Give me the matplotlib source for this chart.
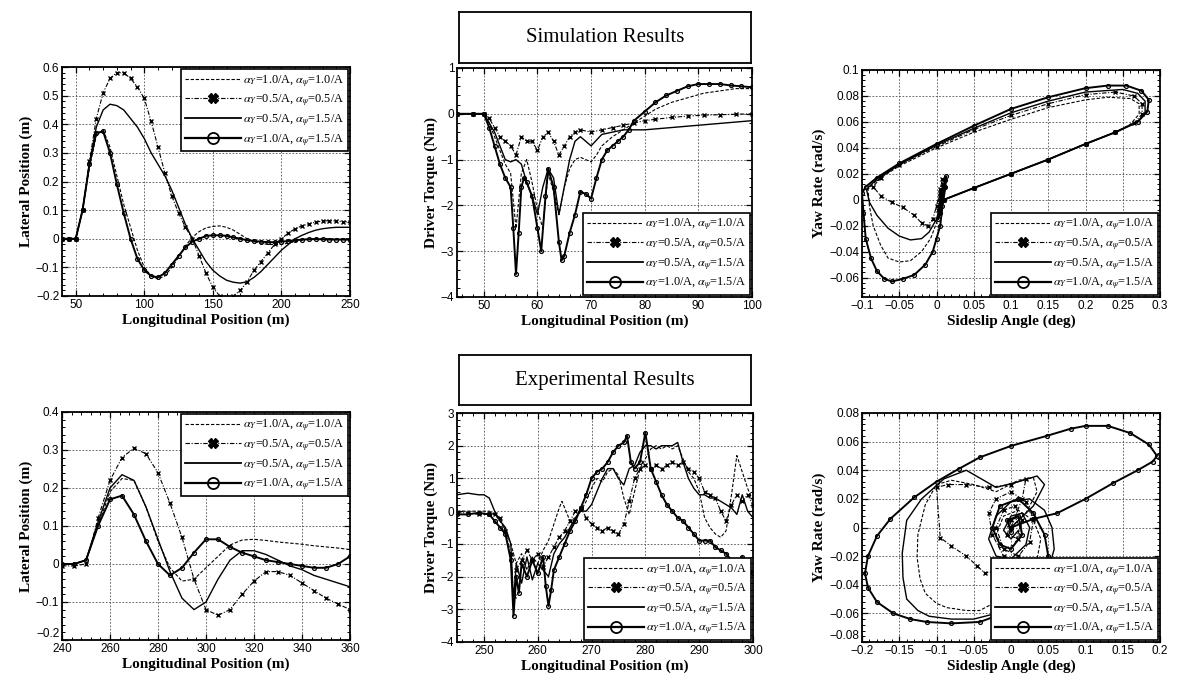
import matplotlib
matplotlib.use('Agg')
import matplotlib.pyplot as plt
from matplotlib.lines import Line2D
from matplotlib.ticker import MultipleLocator, AutoMinorLocator, FuncFormatter

plt.rcParams['mathtext.fontset'] = 'stix'

# ---------------- data ----------------
legend_labels = [r'$\alpha_Y$=1.0/A, $\alpha_\psi$=1.0/A',
                 r'$\alpha_Y$=0.5/A, $\alpha_\psi$=0.5/A',
                 r'$\alpha_Y$=0.5/A, $\alpha_\psi$=1.5/A',
                 r'$\alpha_Y$=1.0/A, $\alpha_\psi$=1.5/A']

# Simulation: lateral position
sim_lat_x = [40, 45, 50, 55, 60, 65, 70, 75, 80, 85,
             90, 95, 100, 105, 110, 115, 120, 125, 130, 135,
             140, 145, 150, 155, 160, 165, 170, 175, 180, 185,
             190, 195, 200, 205, 210, 215, 220, 225, 230, 235,
             240, 245, 250]
sim_lat_s1 = [0, 0, 0, 0.10, 0.25, 0.36, 0.38, 0.32, 0.22, 0.12,
              0.04, -0.04, -0.10, -0.13, -0.14, -0.13, -0.10, -0.065, -0.025, 0.005,
              0.025, 0.038, 0.043, 0.045, 0.04, 0.03, 0.015, 0.0, -0.01, -0.015,
              -0.02, -0.02, -0.02, -0.015, -0.01, -0.005, 0, 0, 0, 0,
              0, 0, 0]
sim_lat_s2 = [0, 0, 0, 0.10, 0.27, 0.42, 0.51, 0.56, 0.58, 0.58,
              0.56, 0.53, 0.49, 0.41, 0.32, 0.23, 0.15, 0.09, 0.04, 0.0,
              -0.06, -0.12, -0.17, -0.20, -0.21, -0.20, -0.18, -0.15, -0.11, -0.08,
              -0.05, -0.02, 0.0, 0.02, 0.035, 0.045, 0.052, 0.058, 0.062, 0.063,
              0.062, 0.06, 0.058]
sim_lat_s3 = [0, 0, 0, 0.10, 0.26, 0.39, 0.45, 0.47, 0.465, 0.45,
              0.42, 0.39, 0.35, 0.30, 0.26, 0.22, 0.17, 0.11, 0.05, 0.0,
              -0.04, -0.08, -0.11, -0.13, -0.145, -0.152, -0.155, -0.15, -0.135, -0.115,
              -0.09, -0.065, -0.04, -0.02, 0.0, 0.012, 0.022, 0.03, 0.035, 0.038,
              0.04, 0.04, 0.04]
sim_lat_s4 = [0, 0, 0, 0.10, 0.26, 0.37, 0.375, 0.30, 0.19, 0.09,
              0.0, -0.07, -0.11, -0.13, -0.135, -0.12, -0.09, -0.06, -0.03, -0.01,
              0.0, 0.01, 0.012, 0.012, 0.01, 0.005, 0.0, -0.005, -0.008, -0.01,
              -0.012, -0.012, -0.01, -0.008, -0.005, -0.003, -0.002, -0.001, -0.002, -0.003,
              -0.003, -0.003, -0.003]

# Simulation: driver torque
sim_tq_x1 = [45, 48, 50, 51, 52, 53, 54, 55, 56, 57,
             58, 59, 60, 61, 62, 63, 64, 65, 66, 67,
             68, 69, 70, 71, 72, 74, 76, 78, 80, 82,
             85, 88, 91, 94, 97, 100]
sim_tq_y1 = [0.0, 0.0, 0.0, -0.2, -0.5, -0.8, -1.1, -1.3, -2.5, -1.3,
             -1.0, -1.5, -2.1, -2.5, -1.3, -1.7, -2.2, -1.6, -1.2, -1.0,
             -0.95, -1.0, -1.05, -0.9, -0.7, -0.5, -0.35, -0.2, -0.05, 0.1,
             0.25, 0.35, 0.45, 0.5, 0.55, 0.55]
sim_tq_x2 = [45, 48, 50, 51, 52, 53, 54, 55, 56, 57,
             58, 59, 60, 61, 62, 63, 64, 65, 66, 67,
             68, 70, 72, 74, 76, 78, 80, 82, 85, 88,
             91, 94, 97, 100]
sim_tq_y2 = [0.0, 0.0, 0.0, -0.1, -0.3, -0.5, -0.6, -0.7, -0.9, -0.5,
             -0.6, -0.6, -0.8, -0.5, -0.4, -0.6, -0.9, -0.7, -0.5, -0.4,
             -0.35, -0.4, -0.35, -0.3, -0.25, -0.2, -0.15, -0.12, -0.08, -0.05,
             -0.03, -0.02, -0.01, 0.0]
sim_tq_x3 = [45, 48, 50, 51, 52, 53, 54, 55, 56, 57,
             58, 59, 60, 61, 62, 63, 64, 65, 66, 67,
             68, 69, 70, 72, 74, 76, 78, 80, 85, 90,
             95, 100]
sim_tq_y3 = [0.0, 0.0, 0.0, -0.2, -0.4, -0.7, -1.0, -1.05, -1.0, -1.1,
             -1.5, -1.8, -2.2, -1.6, -1.2, -1.4, -2.2, -1.6, -1.0, -0.6,
             -0.5, -0.6, -0.7, -0.45, -0.4, -0.35, -0.35, -0.35, -0.3, -0.25,
             -0.2, -0.15]
sim_tq_x4 = [45, 48, 50, 51, 52, 53, 54, 55, 55.5, 56,
             56.5, 57, 57.5, 58, 59, 60, 60.7, 61.5, 62, 63,
             64, 64.5, 65, 66, 67, 68, 69, 70, 71, 72,
             73, 74, 75, 76, 77, 78, 80, 82, 84, 86,
             88, 90, 92, 94, 96, 98, 100]
sim_tq_y4 = [0.0, 0.0, 0.0, -0.3, -0.7, -1.1, -1.4, -1.6, -2.5, -3.5,
             -2.6, -1.6, -1.4, -1.5, -1.8, -2.5, -3.0, -1.8, -1.2, -1.6,
             -2.8, -3.2, -3.1, -2.6, -2.2, -1.7, -1.75, -1.85, -1.4, -1.0,
             -0.8, -0.7, -0.6, -0.5, -0.35, -0.15, 0.05, 0.25, 0.4, 0.5,
             0.6, 0.65, 0.65, 0.65, 0.62, 0.6, 0.58]

# Simulation: sideslip vs yaw rate
sim_ph_b1 = [0.01, 0.05, 0.1, 0.15, 0.2, 0.24, 0.26, 0.272, 0.272, 0.26,
             0.23, 0.2, 0.15, 0.1, 0.05, 0.0, -0.05, -0.08, -0.092, -0.09,
             -0.085, -0.075, -0.065, -0.05, -0.035, -0.02, -0.008, 0.0, 0.006, 0.01,
             0.012, 0.008, 0.004, 0.008, 0.01, 0.006]
sim_ph_r1 = [0.0, 0.009, 0.02, 0.031, 0.043, 0.052, 0.058, 0.066, 0.074, 0.078,
             0.079, 0.077, 0.071, 0.062, 0.052, 0.04, 0.026, 0.015, 0.008, -0.005,
             -0.02, -0.035, -0.045, -0.048, -0.047, -0.04, -0.03, -0.018, -0.005, 0.01,
             0.016, 0.005, -0.01, 0.0, 0.012, 0.003]
sim_ph_b2 = [0.01, 0.05, 0.1, 0.15, 0.2, 0.24, 0.265, 0.276, 0.276, 0.265,
             0.24, 0.2, 0.15, 0.1, 0.05, 0.0, -0.05, -0.075, -0.085, -0.075,
             -0.06, -0.045, -0.03, -0.02, -0.012, -0.005, 0.0, 0.005, 0.008, 0.005,
             0.002, 0.006, 0.009, 0.005]
sim_ph_r2 = [0.0, 0.009, 0.02, 0.031, 0.043, 0.052, 0.059, 0.066, 0.074, 0.08,
             0.083, 0.081, 0.074, 0.065, 0.054, 0.041, 0.027, 0.017, 0.01, 0.003,
             -0.002, -0.006, -0.012, -0.018, -0.02, -0.015, -0.005, 0.008, 0.016, 0.005,
             -0.008, 0.004, 0.012, 0.002]
sim_ph_b3 = [0.01, 0.05, 0.1, 0.15, 0.2, 0.24, 0.27, 0.28, 0.28, 0.27,
             0.25, 0.2, 0.15, 0.1, 0.05, 0.0, -0.05, -0.08, -0.094, -0.09,
             -0.08, -0.065, -0.05, -0.035, -0.02, -0.01, 0.0, 0.006, 0.01, 0.012,
             0.008, 0.004, 0.009, 0.011, 0.007]
sim_ph_r3 = [0.0, 0.009, 0.02, 0.031, 0.043, 0.052, 0.06, 0.067, 0.076, 0.082,
             0.085, 0.083, 0.076, 0.067, 0.055, 0.042, 0.027, 0.016, 0.008, -0.002,
             -0.012, -0.022, -0.028, -0.031, -0.03, -0.025, -0.015, -0.002, 0.012, 0.017,
             0.004, -0.008, 0.004, 0.013, 0.003]
sim_ph_b4 = [0.01, 0.05, 0.1, 0.15, 0.2, 0.24, 0.27, 0.283, 0.285, 0.275,
             0.255, 0.23, 0.2, 0.15, 0.1, 0.05, 0.0, -0.05, -0.08, -0.095,
             -0.1, -0.098, -0.095, -0.088, -0.08, -0.07, -0.06, -0.045, -0.03, -0.015,
             -0.005, 0.0, 0.005, 0.008, 0.012, 0.013, 0.01, 0.005, 0.002, 0.008,
             0.012, 0.008, 0.005]
sim_ph_r4 = [0.0, 0.009, 0.02, 0.031, 0.043, 0.052, 0.06, 0.068, 0.077, 0.084,
             0.088, 0.088, 0.086, 0.079, 0.07, 0.057, 0.043, 0.028, 0.017, 0.01,
             0.005, -0.01, -0.03, -0.045, -0.055, -0.061, -0.063, -0.061, -0.058, -0.05,
             -0.04, -0.03, -0.02, -0.005, 0.01, 0.018, 0.01, -0.01, -0.015, 0.0,
             0.015, 0.005, 0.0]

# Experiment: lateral position
exp_lat_x = [240, 245, 250, 255, 260, 265, 270, 275, 280, 285,
             290, 295, 300, 305, 310, 315, 320, 325, 330, 335,
             340, 345, 350, 355, 360]
exp_lat_s1 = [0, 0, 0.01, 0.10, 0.19, 0.225, 0.22, 0.15, 0.06, -0.01,
              -0.045, -0.04, -0.01, 0.02, 0.05, 0.063, 0.065, 0.062, 0.058, 0.055,
              0.052, 0.048, 0.045, 0.042, 0.038]
exp_lat_s2 = [-0.005, -0.005, 0.0, 0.12, 0.22, 0.28, 0.305, 0.29, 0.24, 0.16,
              0.07, -0.04, -0.12, -0.135, -0.12, -0.08, -0.045, -0.02, -0.02, -0.03,
              -0.05, -0.07, -0.09, -0.105, -0.12]
exp_lat_s3 = [0, 0, 0.01, 0.11, 0.20, 0.235, 0.22, 0.15, 0.065, -0.02,
              -0.09, -0.12, -0.10, -0.04, 0.01, 0.035, 0.035, 0.025, 0.01, -0.005,
              -0.015, -0.03, -0.04, -0.05, -0.06]
exp_lat_s4 = [0, 0, 0.01, 0.10, 0.17, 0.18, 0.13, 0.06, 0.0, -0.03,
              -0.01, 0.03, 0.065, 0.065, 0.045, 0.03, 0.02, 0.01, 0.005, 0.0,
              -0.005, -0.01, -0.01, 0.0, 0.02]

# Experiment: driver torque
exp_tq_x1 = [245, 247, 249, 251, 252, 253, 254, 255, 256, 257,
             258, 259, 260, 261, 262, 263, 264, 264.5, 265, 266,
             267, 268, 269, 270, 271, 272, 273, 274, 275, 276,
             277, 278, 279, 280, 281, 282, 283, 284, 285, 286,
             287, 288, 289, 290, 291, 292, 293, 294, 295, 296,
             297, 298, 299, 300]
exp_tq_y1 = [0.0, 0.0, 0.0, 0.0, -0.1, -0.3, -0.6, -1.0, -1.6, -1.3,
             -1.8, -1.4, -1.6, -1.2, -0.9, -0.4, 0.1, 0.3, 0.1, -0.3,
             -0.2, 0.0, 0.3, 0.7, 1.0, 0.9, 1.2, 1.3, 1.1, 0.4,
             -0.1, 0.6, 1.3, 1.6, 1.9, 2.0, 1.9, 2.0, 1.9, 2.0,
             1.6, 1.2, 1.0, 0.6, -0.2, -0.5, -0.7, -0.8, -0.6, 0.5,
             1.7, 1.2, 0.7, 0.3]
exp_tq_x2 = [245, 247, 249, 251, 252, 253, 254, 255, 255.5, 256,
             257, 258, 259, 260, 261, 262, 263, 264, 265, 266,
             267, 268, 269, 270, 271, 272, 273, 274, 275, 276,
             277, 278, 279, 280, 281, 282, 283, 284, 285, 286,
             287, 288, 289, 290, 291, 292, 293, 294, 295, 296,
             297, 298, 299, 300]
exp_tq_y2 = [-0.05, -0.05, -0.1, -0.1, -0.1, -0.2, -0.6, -1.3, -2.6, -1.8,
             -1.5, -1.2, -1.5, -1.3, -1.7, -1.4, -1.1, -0.8, -0.6, -0.3,
             0.0, 0.1, -0.2, -0.4, -0.5, -0.6, -0.5, -0.6, -0.7, -0.4,
             0.3, 1.0, 1.3, 1.4, 1.3, 1.4, 1.3, 1.4, 1.5, 1.4,
             1.5, 1.3, 1.2, 1.0, 0.6, 0.5, 0.4, 0.0, -0.3, 0.2,
             0.5, 0.3, 0.5, 0.2]
exp_tq_x3 = [245, 247, 249, 250, 251, 252, 253, 254, 255, 255.5,
             256, 257, 258, 259, 260, 261, 262, 263, 264, 265,
             266, 267, 268, 269, 270, 271, 272, 273, 274, 275,
             276, 277, 278, 279, 280, 281, 282, 283, 284, 285,
             286, 287, 288, 289, 290, 291, 292, 293, 294, 295,
             296, 297, 298, 299, 300]
exp_tq_y3 = [0.5, 0.55, 0.5, 0.5, 0.4, 0.0, -0.3, -0.5, -1.0, -2.8,
             -1.6, -2.2, -1.4, -2.1, -1.6, -1.8, -2.0, -1.3, -1.0, -0.8,
             -0.5, -0.2, 0.0, 0.0, 0.2, 0.6, 1.0, 1.3, 1.3, 1.0,
             0.8, 1.3, 1.4, 1.8, 2.0, 2.0, 1.9, 2.0, 2.0, 2.0,
             2.1, 1.5, 1.0, 0.7, 0.5, 0.5, 0.4, 0.4, 0.3, 0.2,
             0.1, -0.1, 0.5, 0.0, -0.2]
exp_tq_x4 = [245, 247, 249, 251, 252, 253, 254, 255, 255.5, 256,
             256.5, 257, 258, 259, 260, 261, 261.5, 262, 262.5, 263,
             264, 265, 266, 267, 268, 269, 270, 271, 272, 273,
             274, 275, 276, 276.6, 277.3, 278, 279, 280, 281, 282,
             283, 284, 285, 286, 287, 288, 289, 290, 291, 292,
             293, 294, 295, 296, 297, 298, 299, 300]
exp_tq_y4 = [-0.1, -0.1, -0.05, -0.1, -0.3, -0.5, -0.7, -1.5, -3.2, -2.0,
             -2.5, -1.6, -2.0, -1.5, -1.9, -1.4, -2.3, -2.9, -2.4, -1.8,
             -1.4, -1.0, -0.6, -0.3, 0.1, 0.5, 1.0, 1.2, 1.3, 1.5,
             1.8, 2.0, 2.1, 2.3, 1.5, 1.3, 1.5, 2.4, 1.3, 0.9,
             0.5, 0.2, 0.0, -0.2, -0.3, -0.5, -0.7, -0.9, -0.9, -0.9,
             -1.1, -1.2, -1.3, -1.5, -1.6, -1.4, -1.7, -1.9]

# Experiment: sideslip vs yaw rate
exp_ph_b1 = [0.0, 0.02, 0.035, 0.03, 0.01, -0.02, -0.05, -0.08, -0.1, -0.115,
             -0.125, -0.126, -0.122, -0.115, -0.1, -0.086, -0.06, -0.042, -0.02, 0.0,
             0.02, 0.035, 0.04, 0.03, 0.01, -0.01, -0.02, -0.01, 0.005, 0.012,
             0.005, -0.005]
exp_ph_r1 = [0.0, 0.01, 0.025, 0.035, 0.033, 0.025, 0.03, 0.033, 0.03, 0.016,
             -0.005, -0.021, -0.036, -0.046, -0.053, -0.056, -0.058, -0.058, -0.052, -0.045,
             -0.035, -0.022, -0.008, 0.005, 0.012, 0.008, -0.005, -0.015, -0.012, 0.0,
             0.008, 0.0]
exp_ph_b2 = [0.0, 0.015, 0.02, 0.0, -0.03, -0.06, -0.085, -0.1, -0.095, -0.08,
             -0.06, -0.045, -0.035, -0.02, -0.01, -0.025, -0.03, -0.02, 0.0, 0.02,
             0.03, 0.025, 0.01, -0.01, -0.02, -0.01, 0.005, 0.015, 0.01, -0.005,
             0.0]
exp_ph_r2 = [0.0, 0.02, 0.034, 0.03, 0.028, 0.03, 0.03, 0.028, -0.007, -0.013,
             -0.02, -0.027, -0.032, -0.03, -0.02, -0.005, 0.01, 0.02, 0.025, 0.018,
             0.005, -0.01, -0.02, -0.015, 0.0, 0.012, 0.015, 0.005, -0.008, -0.005,
             0.005]
exp_ph_b3 = [0.0, 0.03, 0.045, 0.035, 0.01, -0.02, -0.06, -0.09, -0.12, -0.14,
             -0.146, -0.145, -0.14, -0.125, -0.11, -0.08, -0.05, -0.02, 0.01, 0.035,
             0.05, 0.058, 0.055, 0.045, 0.025, 0.0, -0.02, -0.03, -0.02, 0.0,
             0.02, 0.025, 0.015, 0.0, -0.01, 0.0, 0.01]
exp_ph_r3 = [0.0, 0.015, 0.03, 0.036, 0.032, 0.028, 0.04, 0.034, 0.02, 0.005,
             -0.018, -0.035, -0.05, -0.058, -0.062, -0.064, -0.064, -0.06, -0.05, -0.04,
             -0.03, -0.015, 0.0, 0.012, 0.02, 0.018, 0.008, -0.008, -0.02, -0.022,
             -0.012, 0.0, 0.01, 0.008, -0.002, -0.008, -0.002]
exp_ph_b4 = [0.0, 0.03, 0.062, 0.1, 0.137, 0.17, 0.19, 0.196, 0.185, 0.16,
             0.13, 0.1, 0.08, 0.048, 0.0, -0.042, -0.07, -0.1, -0.13, -0.162,
             -0.18, -0.192, -0.196, -0.192, -0.18, -0.158, -0.135, -0.113, -0.08, -0.042,
             -0.01, 0.02, 0.04, 0.05, 0.045, 0.03, 0.01, -0.015, -0.025, -0.015,
             0.0, 0.015, 0.01, -0.005, 0.0]
exp_ph_r4 = [0.0, 0.006, 0.01, 0.02, 0.031, 0.04, 0.046, 0.05, 0.058, 0.066,
             0.071, 0.071, 0.069, 0.064, 0.057, 0.049, 0.041, 0.032, 0.021, 0.006,
             -0.006, -0.02, -0.032, -0.042, -0.052, -0.06, -0.064, -0.066, -0.067, -0.066,
             -0.06, -0.048, -0.035, -0.02, -0.005, 0.01, 0.02, 0.015, 0.0, -0.012,
             -0.015, -0.005, 0.008, 0.005, -0.003]

# ---------------- styling ----------------
W, H = 1182, 686
fig = plt.figure(figsize=(W / 100, H / 100), dpi=100)
fig.patch.set_facecolor('white')

SERIF = ['Liberation Serif', 'DejaVu Serif']
SANS = ['Liberation Sans', 'DejaVu Sans']

def rect(l, t, r, b):
    return [l / W, 1 - b / H, (r - l) / W, (b - t) / H]

styles = [
    dict(color='black', ls=(0, (3, 1.6)), lw=0.8),
    dict(color='black', ls=(0, (4, 1.5, 1, 1.5)), lw=0.8, marker='x', ms=2.8, mew=1.0),
    dict(color='black', ls='-', lw=1.0),
    dict(color='black', ls='-', lw=1.4, marker='o', ms=2.8, mfc='none', mew=0.9),
]
leg_styles = [
    dict(color='black', ls=(0, (3, 1.6)), lw=0.8),
    dict(color='black', ls=(0, (4, 1.5, 1, 1.5)), lw=0.8, marker='X', ms=7, mfc='black', mec='black'),
    dict(color='black', ls='-', lw=1.3),
    dict(color='black', ls='-', lw=1.6, marker='o', ms=8, mfc='none', mew=1.3),
]

def fmt(v, pos):
    s = '%g' % round(v, 6)
    if s == '-0':
        s = '0'
    return s.replace('-', '\u2212')

def setup(ax, xlim, ylim, xstep, ystep, xlabel, ylabel, legloc, lift_bottom=False):
    ax.set_xlim(*xlim)
    ax.set_ylim(*ylim)
    ax.xaxis.set_major_locator(MultipleLocator(xstep))
    ax.yaxis.set_major_locator(MultipleLocator(ystep))
    ax.xaxis.set_minor_locator(AutoMinorLocator(5))
    ax.yaxis.set_minor_locator(AutoMinorLocator(5))
    ax.xaxis.set_major_formatter(FuncFormatter(fmt))
    ax.yaxis.set_major_formatter(FuncFormatter(fmt))
    ax.tick_params(which='both', direction='in', top=True, right=True)
    ax.tick_params(which='major', length=4, width=0.9, labelsize=8.5, pad=2)
    ax.tick_params(which='minor', length=2, width=0.7)
    for lab in ax.get_xticklabels() + ax.get_yticklabels():
        lab.set_family(SANS)
    if lift_bottom:
        ticks = ax.yaxis.get_major_ticks()
        locs = ax.yaxis.get_majorticklocs()
        for t, v in zip(ticks, locs):
            if abs(v - ylim[0]) < 1e-9:
                t.label1.set_va('bottom')
    ax.grid(True, which='major', ls=(0, (2, 2)), lw=0.6, color='0.3')
    for sp in ax.spines.values():
        sp.set_linewidth(1.3)
    ax.set_xlabel(xlabel, family=SERIF, fontsize=11, fontweight='bold', labelpad=2)
    ax.set_ylabel(ylabel, family=SERIF, fontsize=11, fontweight='bold', labelpad=2)
    handles = [Line2D([], [], **s) for s in leg_styles]
    leg = ax.legend(handles, legend_labels, loc=legloc, frameon=True,
                    fancybox=False, edgecolor='black', framealpha=1, handlelength=4.6,
                    labelspacing=0.3, borderaxespad=0.15, borderpad=0.3,
                    handletextpad=0.2, prop={'family': SERIF, 'size': 8.8})
    leg.get_frame().set_linewidth(1.2)
    leg.set_zorder(10)

def draw(ax, xs, ys):
    for x, y, st in zip(xs, ys, styles):
        ax.plot(x, y, **st)

def title_box(l, t, r, b, text):
    tb = fig.add_axes(rect(l, t, r, b))
    tb.set_xticks([])
    tb.set_yticks([])
    for sp in tb.spines.values():
        sp.set_linewidth(1.3)
    tb.text(0.5, 0.5, text, ha='center', va='center', family=SERIF, fontsize=15)

# Top-left
ax = fig.add_axes(rect(62, 67, 350, 296))
draw(ax, [sim_lat_x] * 4, [sim_lat_s1, sim_lat_s2, sim_lat_s3, sim_lat_s4])
setup(ax, (40, 250), (-0.2, 0.6), 50, 0.1, 'Longitudinal Position (m)', 'Lateral Position (m)', 'upper right')

# Top-middle
ax = fig.add_axes(rect(457, 68, 752, 297))
draw(ax, [sim_tq_x1, sim_tq_x2, sim_tq_x3, sim_tq_x4], [sim_tq_y1, sim_tq_y2, sim_tq_y3, sim_tq_y4])
setup(ax, (45, 100), (-4, 1), 10, 1, 'Longitudinal Position (m)', 'Driver Torque (Nm)', 'lower right')
title_box(459, 12, 751, 63, 'Simulation Results')

# Top-right
ax = fig.add_axes(rect(862, 70, 1160, 297))
draw(ax, [sim_ph_b1, sim_ph_b2, sim_ph_b3, sim_ph_b4], [sim_ph_r1, sim_ph_r2, sim_ph_r3, sim_ph_r4])
setup(ax, (-0.1, 0.3), (-0.075, 0.1), 0.05, 0.02, 'Sideslip Angle (deg)', 'Yaw Rate (rad/s)', 'lower right')

# Bottom-left
ax = fig.add_axes(rect(62, 412, 350, 640))
draw(ax, [exp_lat_x] * 4, [exp_lat_s1, exp_lat_s2, exp_lat_s3, exp_lat_s4])
setup(ax, (240, 360), (-0.2, 0.4), 20, 0.1, 'Longitudinal Position (m)', 'Lateral Position (m)', 'upper right',
      lift_bottom=True)

# Bottom-middle
ax = fig.add_axes(rect(457, 413, 753, 642))
draw(ax, [exp_tq_x1, exp_tq_x2, exp_tq_x3, exp_tq_x4], [exp_tq_y1, exp_tq_y2, exp_tq_y3, exp_tq_y4])
setup(ax, (245, 300), (-4, 3), 10, 1, 'Longitudinal Position (m)', 'Driver Torque (Nm)', 'lower right')
title_box(459, 355, 751, 405, 'Experimental Results')

# Bottom-right
ax = fig.add_axes(rect(862, 413, 1160, 642))
draw(ax, [exp_ph_b1, exp_ph_b2, exp_ph_b3, exp_ph_b4], [exp_ph_r1, exp_ph_r2, exp_ph_r3, exp_ph_r4])
setup(ax, (-0.2, 0.2), (-0.08, 0.08), 0.05, 0.02, 'Sideslip Angle (deg)', 'Yaw Rate (rad/s)', 'lower right',
      lift_bottom=True)

fig.savefig('out.png', dpi=100, facecolor='white')
